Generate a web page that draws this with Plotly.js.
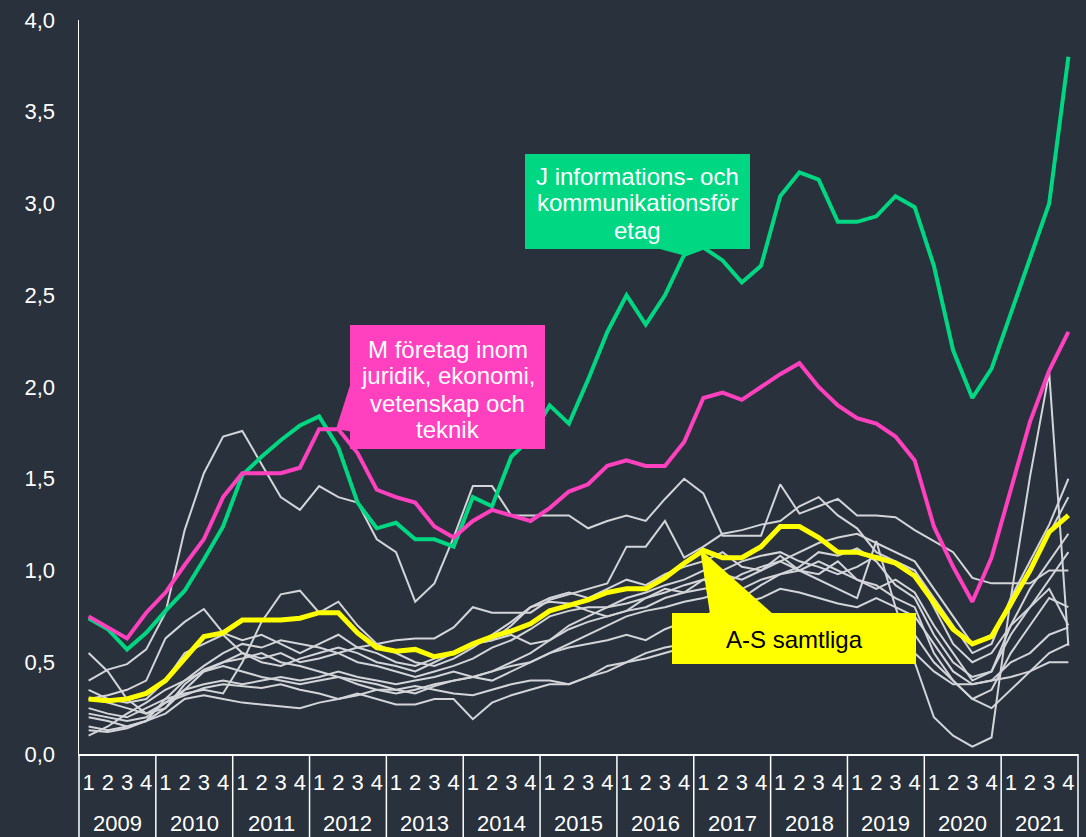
<!DOCTYPE html>
<html>
<head>
<meta charset="utf-8">
<script src="https://cdn.plot.ly/plotly-3.0.1.min.js"></script>
<style>
html,body{margin:0;padding:0;background:#29313c;}
#chart{width:1086px;height:837px;}
</style>
</head>
<body>
<div id="chart"></div>
<script>
// ---- Tick labels ----
const years = ['2009','2010','2011','2012','2013','2014','2015','2016','2017','2018','2019','2020','2021'];
const quarters = ['1','2','3','4'];

// ---- Highlighted series ----
const seriesJ = [0.74,0.68,0.57,0.66, 0.78,0.89,1.06,1.24, 1.52,1.62,1.71,1.79, 1.84,1.67,1.37,1.23,
  1.26,1.17,1.17,1.13, 1.40,1.35,1.62,1.72, 1.90,1.80,2.04,2.30, 2.50,2.34,2.50,2.72,
  2.76,2.69,2.57,2.66, 3.04,3.17,3.13,2.90, 2.90,2.93,3.04,2.98, 2.66,2.20,1.94,2.10,
  2.40,2.70,3.00,3.80];
const seriesM = [0.75,0.69,0.63,0.77, 0.88,1.03,1.17,1.40, 1.53,1.53,1.53,1.56, 1.77,1.77,1.64,1.44,
  1.40,1.37,1.24,1.18, 1.27,1.33,1.30,1.27, 1.34,1.43,1.47,1.57, 1.60,1.57,1.57,1.70,
  1.94,1.97,1.93,2.00, 2.07,2.13,2.00,1.90, 1.83,1.80,1.73,1.60, 1.24,1.02,0.83,1.07,
  1.44,1.81,2.09,2.30];
const seriesAS = [0.30,0.29,0.30,0.33, 0.40,0.52,0.64,0.66, 0.73,0.73,0.73,0.74, 0.77,0.77,0.66,0.58,
  0.56,0.57,0.53,0.55, 0.60,0.64,0.67,0.71, 0.78,0.81,0.84,0.88, 0.90,0.90,0.96,1.04,
  1.11,1.07,1.07,1.13, 1.24,1.24,1.18,1.10, 1.10,1.07,1.04,0.97, 0.82,0.68,0.60,0.64,
  0.82,1.00,1.21,1.30];

// ---- Other sections (grey) ----
const g1 = [0.40,0.46,0.49,0.57, 0.77,1.22,1.53,1.73, 1.76,1.58,1.40,1.33, 1.46,1.40,1.37,1.17,
  1.10,0.83,0.93,1.18, 1.46,1.46,1.30,1.30, 1.30,1.30,1.23,1.27, 1.30,1.27,1.39,1.50,
  1.42,1.19,1.19,1.19, 1.47,1.31,1.35,1.39, 1.30,1.30,1.29,1.22, 1.16,1.10,0.96,0.93,
  0.93,0.93,1.00,1.00];
const g2 = [0.20,0.18,0.15,0.18, 0.30,0.40,0.45,0.48, 0.45,0.42,0.40,0.38, 0.40,0.42,0.38,0.35,
  0.33,0.35,0.38,0.40, 0.42,0.45,0.50,0.55, 0.62,0.70,0.75,0.80, 0.85,0.88,0.92,0.95,
  1.00,0.98,0.95,1.00, 1.05,1.00,0.95,0.90, 0.85,1.16,0.80,0.50, 0.20,0.10,0.04,0.09,
  0.85,1.51,2.08,0.59];
const g3 = [0.35,0.30,0.28,0.30, 0.40,0.55,0.60,0.65, 0.55,0.52,0.55,0.50, 0.52,0.55,0.58,0.60,
  0.62,0.63,0.63,0.69, 0.80,0.77,0.77,0.77, 0.84,0.87,0.90,0.93, 1.13,1.13,1.27,1.07,
  1.13,1.20,1.22,1.25, 1.27,1.35,1.40,1.30, 1.23,1.10,1.05,1.00, 0.85,0.70,0.55,0.60,
  0.85,1.05,1.25,1.50];
const g4 = [0.25,0.22,0.20,0.25, 0.30,0.33,0.35,0.33, 0.50,0.72,0.87,0.89, 0.77,0.83,0.70,0.60,
  0.55,0.50,0.48,0.52, 0.58,0.65,0.72,0.80, 0.85,0.88,0.85,0.90, 0.95,0.92,0.98,1.02,
  1.05,1.10,1.02,1.00, 1.08,1.00,0.98,1.05, 0.95,0.90,0.95,0.88, 0.70,0.55,0.40,0.45,
  0.70,0.90,1.05,1.20];
const g5 = [0.30,0.32,0.35,0.40, 0.63,0.72,0.79,0.66, 0.62,0.65,0.60,0.55, 0.60,0.65,0.58,0.55,
  0.50,0.48,0.52,0.55, 0.60,0.62,0.70,0.80, 0.83,0.82,0.78,0.75, 0.78,0.85,0.88,0.92,
  0.95,0.90,0.85,0.92, 0.98,1.02,1.10,1.08, 1.12,1.05,0.92,0.85, 0.65,0.50,0.42,0.45,
  0.65,0.80,0.95,1.10];
const g6 = [0.15,0.13,0.15,0.18, 0.25,0.35,0.45,0.50, 0.52,0.55,0.50,0.48, 0.45,0.42,0.40,0.38,
  0.35,0.33,0.37,0.40, 0.42,0.45,0.48,0.50, 0.55,0.60,0.65,0.70, 0.75,0.78,0.80,0.83,
  0.85,0.88,0.90,0.95, 0.98,1.00,1.05,1.00, 0.95,0.92,0.85,0.80, 0.55,0.40,0.30,0.35,
  0.55,0.70,0.85,0.80];
const g7 = [0.10,0.15,0.22,0.28, 0.35,0.40,0.48,0.55, 0.60,0.58,0.62,0.60, 0.58,0.55,0.50,0.48,
  0.45,0.42,0.45,0.48, 0.52,0.58,0.62,0.68, 0.75,0.78,0.80,0.80, 0.82,0.85,0.90,0.88,
  0.95,1.00,1.05,1.08, 1.10,1.05,1.02,0.98, 1.02,1.08,1.05,1.00, 0.80,0.60,0.50,0.55,
  0.70,0.80,0.90,0.70];
const g8 = [0.30,0.28,0.25,0.22, 0.28,0.35,0.38,0.40, 0.38,0.40,0.42,0.40, 0.42,0.45,0.42,0.40,
  0.38,0.40,0.42,0.45, 0.42,0.40,0.45,0.50, 0.55,0.58,0.60,0.62, 0.65,0.62,0.68,0.72,
  0.75,0.80,0.82,0.85, 0.90,0.88,0.85,0.82, 0.80,0.85,0.80,0.75, 0.60,0.45,0.38,0.40,
  0.50,0.55,0.65,0.69];
const g9 = [0.22,0.20,0.18,0.20, 0.28,0.32,0.36,0.38, 0.37,0.36,0.38,0.35, 0.33,0.30,0.32,0.35,
  0.35,0.37,0.35,0.33, 0.32,0.35,0.38,0.40, 0.40,0.38,0.42,0.48, 0.50,0.55,0.58,0.60,
  0.62,0.65,0.62,0.60, 0.65,0.70,0.72,0.70, 0.68,0.65,0.62,0.55, 0.45,0.38,0.38,0.40,
  0.42,0.45,0.50,0.50];
const g10 = [0.13,0.12,0.14,0.18, 0.22,0.30,0.32,0.30, 0.28,0.27,0.26,0.25, 0.28,0.30,0.33,0.30,
  0.27,0.27,0.30,0.30, 0.19,0.28,0.32,0.35, 0.38,0.38,0.42,0.45, 0.50,0.52,0.55,0.58,
  0.60,0.62,0.65,0.68, 0.70,0.72,0.70,0.68, 0.72,0.75,0.72,0.65, 0.50,0.40,0.30,0.25,
  0.35,0.45,0.55,0.60];
const g11 = [0.55,0.45,0.30,0.22, 0.25,0.38,0.46,0.50, 0.55,0.50,0.48,0.52, 0.55,0.58,0.55,0.50,
  0.48,0.45,0.50,0.55, 0.60,0.62,0.65,0.60, 0.62,0.68,0.72,0.75, 0.78,0.80,0.85,0.88,
  0.90,0.92,0.98,1.02, 1.05,1.10,1.15,1.18, 1.20,1.15,1.10,1.05, 0.90,0.75,0.60,0.65,
  0.80,1.00,1.20,1.40];
const greySeries = [g1,g2,g3,g4,g5,g6,g7,g8,g9,g10,g11];

// ---- build x categories ----
const xKeys = [], xQ = [];
years.forEach(y => quarters.forEach(q => { xKeys.push(y + '-' + q); xQ.push(q); }));

const BG = '#29313c';
const GREEN = '#00d783';
const PINK = '#ff40bf';
const YELLOW = '#ffff00';
const GREY = '#d3d5d9';
const FONT = 'Liberation Sans';

const traces = [];
greySeries.forEach(s => traces.push({x: xKeys, y: s, type: 'scatter', mode: 'lines',
  line: {color: GREY, width: 2}, hoverinfo: 'skip', showlegend: false}));
traces.push({x: xKeys, y: seriesAS, type: 'scatter', mode: 'lines', name: 'A-S samtliga',
  line: {color: YELLOW, width: 5}, showlegend: false});
traces.push({x: xKeys, y: seriesJ, type: 'scatter', mode: 'lines', name: 'J',
  line: {color: GREEN, width: 4}, showlegend: false});
traces.push({x: xKeys, y: seriesM, type: 'scatter', mode: 'lines', name: 'M',
  line: {color: PINK, width: 4}, showlegend: false});

// pixel -> paper helpers for callouts and the year boxes
const W = 1086, H = 837;
const L = 79, R = 1078, T = 20, B = 754;
const px = v => (v - L) / (R - L);
const py = v => (B - v) / (B - T);
function rectPath(x0, y0, x1, y1) {
  return `M${px(x0)},${py(y0)} L${px(x1)},${py(y0)} L${px(x1)},${py(y1)} L${px(x0)},${py(y1)} Z`;
}
function polyPath(pts) {
  return 'M' + pts.map(p => `${px(p[0])},${py(p[1])}`).join(' L') + ' Z';
}
const shapes = [
  {type: 'path', xref: 'paper', yref: 'paper', layer: 'above', path: rectPath(525, 154, 750, 249), fillcolor: GREEN, line: {width: 0}},
  {type: 'path', xref: 'paper', yref: 'paper', layer: 'above', path: polyPath([[656,248],[682,255],[710,248]]), fillcolor: GREEN, line: {width: 0}},
  {type: 'path', xref: 'paper', yref: 'paper', layer: 'above', path: rectPath(350, 325, 545, 449), fillcolor: PINK, line: {width: 0}},
  {type: 'path', xref: 'paper', yref: 'paper', layer: 'above', path: polyPath([[353,376],[336,429],[353,432]]), fillcolor: PINK, line: {width: 0}},
  {type: 'path', xref: 'paper', yref: 'paper', layer: 'above', path: rectPath(672, 613, 916, 664), fillcolor: YELLOW, line: {width: 0}},
  {type: 'path', xref: 'paper', yref: 'paper', layer: 'above', path: polyPath([[700,549],[710,614],[773,614]]), fillcolor: YELLOW, line: {width: 0}}
];
// year dividers (box lines under the axis)
const nQ = years.length * quarters.length;
for (let k = 0; k <= years.length; k++) {
  const xp = (k * quarters.length) / nQ;
  shapes.push({type: 'line', xref: 'paper', yref: 'paper', x0: xp, x1: xp, y0: 0, y1: py(H),
    line: {color: '#ffffff', width: 1.5}});
}

const annotations = [];
function textLine(x, y, t, color) {
  annotations.push({xref: 'paper', yref: 'paper', x: px(x), y: py(y), text: t, showarrow: false,
    font: {family: FONT, size: 24, color: color}, xanchor: 'center', yanchor: 'middle'});
}
textLine(637.5, 176, 'J informations- och', '#ffffff');
textLine(637.5, 203, 'kommunikationsför', '#ffffff');
textLine(637.5, 230, 'etag', '#ffffff');
textLine(447.5, 349, 'M företag inom', '#ffffff');
textLine(447.5, 376, 'juridik, ekonomi,', '#ffffff');
textLine(447.5, 403, 'vetenskap och', '#ffffff');
textLine(447.5, 430, 'teknik', '#ffffff');
textLine(794, 639, 'A-S samtliga', '#000000');
// year labels
years.forEach((y, k) => {
  annotations.push({xref: 'paper', yref: 'paper', x: (k * 4 + 2) / nQ, y: py(823), text: y, showarrow: false,
    font: {family: FONT, size: 22, color: '#ffffff'}, xanchor: 'center', yanchor: 'middle', borderpad: 0});
});

const layout = {
  width: W, height: H,
  paper_bgcolor: BG, plot_bgcolor: BG,
  separators: ', ',
  margin: {l: L, r: W - R, t: T, b: H - B, pad: 0},
  font: {family: FONT, color: '#ffffff', size: 22},
  showlegend: false,
  xaxis: {type: 'category', range: [-0.5, nQ - 0.5], tickmode: 'array', tickvals: xKeys, ticktext: xQ,
    showline: true, linecolor: '#ffffff', linewidth: 1.5, showgrid: false, zeroline: false,
    ticks: 'outside', ticklen: 8, tickcolor: 'rgba(0,0,0,0)', tickangle: 0,
    tickfont: {family: FONT, size: 22, color: '#ffffff'}, fixedrange: true},
  yaxis: {range: [0, 4], dtick: 0.5, tickformat: '.1f', showline: true, linecolor: '#ffffff', linewidth: 1.5,
    showgrid: false, zeroline: false, ticks: 'outside', ticklen: 18, tickcolor: 'rgba(0,0,0,0)',
    tickfont: {family: FONT, size: 22, color: '#ffffff'}, fixedrange: true},
  shapes: shapes,
  annotations: annotations
};

Plotly.newPlot('chart', traces, layout, {displayModeBar: false, staticPlot: true});
</script>
</body>
</html>
